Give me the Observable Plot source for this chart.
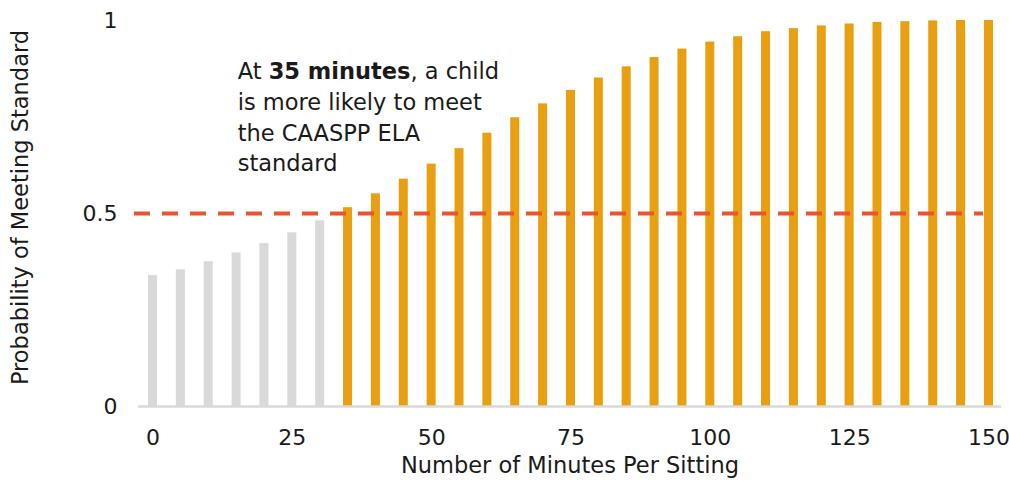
<!DOCTYPE html>
<html>
<head>
<meta charset="utf-8">
<script src="https://cdn.jsdelivr.net/npm/d3@7"></script>
<script src="https://cdn.jsdelivr.net/npm/@observablehq/plot@0.6"></script>
<style>
  html, body { margin: 0; padding: 0; background: #fff; }
  #chart svg { display: block; }
</style>
</head>
<body>
<div id="chart"></div>
<script>
// Minutes per sitting (x) and probability of meeting the ELA standard (y)
const minutes = [0, 5, 10, 15, 20, 25, 30, 35, 40, 45, 50, 55, 60, 65, 70, 75,
  80, 85, 90, 95, 100, 105, 110, 115, 120, 125, 130, 135, 140, 145, 150];
const probability = [0.339, 0.354, 0.375, 0.398, 0.422, 0.450, 0.481, 0.515,
  0.551, 0.589, 0.628, 0.668, 0.708, 0.748, 0.784, 0.819, 0.851, 0.880, 0.904,
  0.926, 0.944, 0.958, 0.971, 0.979, 0.986, 0.991, 0.995, 0.997, 0.999, 1.0, 1.0];

const xTicks = [0, 25, 50, 75, 100, 125, 150];
const yTicks = [0, 0.5, 1];
const threshold = 0.5;
const cutoffMinutes = 35;

const xTitle = "Number of Minutes Per Sitting";
const yTitle = "Probability of Meeting Standard";
const noteLines = ["At 35 minutes, a child", "is more likely to meet", "the CAASPP ELA", "standard"];
const noteBold = "35 minutes";
const noteAt = {m: 15.2, p: 0.904};

const data = minutes.map((m, i) => ({m, p: probability[i], above: m >= cutoffMinutes}));

const barHalf = 0.81;
const font = "DejaVu Sans, Verdana, sans-serif";
const ink = "#1a1a1a";

const chart = Plot.plot({
  width: 1009,
  height: 485,
  marginLeft: 138,
  marginRight: 8,
  marginTop: 20,
  marginBottom: 79,
  style: {fontFamily: font, fontSize: "20px", color: ink, background: "#fff"},
  x: {domain: [-2.6, 152.25]},
  y: {domain: [0, 1]},
  marks: [
    Plot.rectY(data, {
      x1: d => d.m - barHalf,
      x2: d => d.m + barHalf,
      y: "p",
      fill: d => d.above ? "#E8A012" : "#D9D9D9"
    }),
    Plot.ruleY([0], {stroke: "#D9D9D9", strokeWidth: 2.5}),
    Plot.ruleY([threshold], {
      stroke: "#E8552F", strokeWidth: 4, strokeDasharray: "16 12",
      insetLeft: -4, insetRight: 18
    }),
    Plot.axisX({ticks: xTicks, tickSize: 0, tickPadding: 23, label: null,
      fontSize: 22, fill: ink}),
    Plot.axisY({ticks: yTicks, tickSize: 0, tickPadding: 21, label: null,
      tickFormat: d => String(d), fontSize: 22, fill: ink}),
    Plot.text([xTitle], {frameAnchor: "bottom", dy: 66, fontSize: 22.5, fill: ink}),
    Plot.text([yTitle], {frameAnchor: "left", textAnchor: "middle", rotate: -90,
      dx: -118, dy: -6, fontSize: 22.5, fill: ink}),
    Plot.text([noteLines.join("\n")], {
      x: noteAt.m, y: noteAt.p, textAnchor: "start", lineAnchor: "top",
      lineHeight: 1.364, fontSize: 22.5, fill: ink, className: "note"
    })
  ]
});

// Embolden the duration inside the first annotation line
const firstLine = chart.querySelector("g.note text tspan");
if (firstLine) {
  const text = firstLine.textContent;
  const k = text.indexOf(noteBold);
  firstLine.textContent = "";
  const parts = [[text.slice(0, k), "normal"], [noteBold, "bold"], [text.slice(k + noteBold.length), "normal"]];
  for (const [s, w] of parts) {
    const t = document.createElementNS("http://www.w3.org/2000/svg", "tspan");
    t.setAttribute("font-weight", w);
    t.textContent = s;
    firstLine.appendChild(t);
  }
}

document.getElementById("chart").appendChild(chart);
</script>
</body>
</html>
